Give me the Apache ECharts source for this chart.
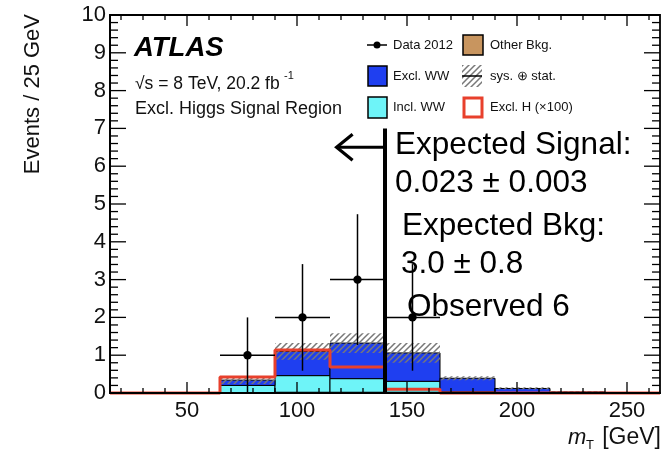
<!DOCTYPE html>
<html><head><meta charset="utf-8">
<script src="https://cdn.jsdelivr.net/npm/echarts@6/dist/echarts.min.js"></script>
<style>html,body{margin:0;padding:0;background:#fff}#c{width:670px;height:457px}</style>
</head><body><div id="c"></div>
<script>
// ---- data ----
const binLow = [15, 40, 65, 90, 115, 140, 165, 190, 215, 240];
const binWidth = 25;
const otherBkg = [0, 0, 0.01, 0.02, 0.02, 0.02, 0.01, 0, 0, 0];
const inclWW = [0, 0, 0.19, 0.44, 0.36, 0.29, 0.02, 0, 0, 0];
const exclWW = [0, 0, 0.14, 0.64, 0.94, 0.75, 0.36, 0.12, 0.03, 0.01];
const sysStatErr = [0, 0, 0.10, 0.22, 0.26, 0.26, 0.05, 0.03, 0.02, 0.01];
const exclH100 = [0, 0, 0.42, 1.14, 0.69, 0.10, 0, 0, 0, 0];
const dataX = [77.5, 102.5, 127.5, 152.5];
const dataY = [1, 2, 3, 2];
const dataErr = [1.0, 1.41, 1.73, 1.41];
const cutX = 140, cutTop = 7, arrowToX = 118, arrowY = 6.5;
const xMajorTicks = [50, 100, 150, 200, 250];
const xMinorTicks = [20, 30, 40, 60, 70, 80, 90, 110, 120, 130, 140, 160, 170, 180, 190, 210, 220, 230, 240, 260];
const yMajorTicks = [0, 1, 2, 3, 4, 5, 6, 7, 8, 9, 10];
const yMinorTicks = [];
yMajorTicks.slice(0, -1).forEach(v => { [0.2, 0.4, 0.6, 0.8].forEach(f => yMinorTicks.push(v + f)); });

const X_MIN = 15, X_MAX = 265, Y_MIN = 0, Y_MAX = 10;
const FONT = '"Liberation Sans", Arial, Helvetica, sans-serif';
const C_OTHER = '#c8955f', C_EXCL = '#1f3ff0', C_INCL = '#6ef4f8', C_RED = '#e8402c';

// hatch pattern
const hatch = document.createElement('canvas');
hatch.width = 6; hatch.height = 6;
(function () {
  const g = hatch.getContext('2d');
  g.strokeStyle = 'rgba(120,120,120,1)';
  g.lineWidth = 1.5;
  g.beginPath();
  g.moveTo(-3, 3); g.lineTo(3, -3);
  g.moveTo(0, 6); g.lineTo(6, 0);
  g.moveTo(3, 9); g.lineTo(9, 3);
  g.stroke();
})();
const hatchFill = { image: hatch, repeat: 'repeat' };

// stacked layers
function layer(vals, bases) {
  const out = [];
  vals.forEach((v, i) => { if (v > 0) out.push([binLow[i], binLow[i] + binWidth, bases[i], bases[i] + v]); });
  return out;
}
const base0 = binLow.map(() => 0);
const base1 = otherBkg.map((v, i) => base0[i] + v);
const base2 = inclWW.map((v, i) => base1[i] + v);
const total = exclWW.map((v, i) => base2[i] + v);
const hatchData = [];
total.forEach((t, i) => { if (sysStatErr[i] > 0) hatchData.push([binLow[i], binLow[i] + binWidth, Math.max(0, t - sysStatErr[i]), t + sysStatErr[i]]); });

function rectRender(fill, stroke, lw) {
  return function (params, api) {
    const a = api.coord([api.value(0), api.value(3)]);
    const b = api.coord([api.value(1), api.value(2)]);
    return { type: 'rect', shape: { x: a[0], y: a[1], width: b[0] - a[0], height: b[1] - a[1] },
      style: { fill: fill, stroke: stroke, lineWidth: lw } };
  };
}

const sigLine = binLow.map((x, i) => [x, exclH100[i]]);
sigLine.push([binLow[binLow.length - 1] + binWidth, exclH100[exclH100.length - 1]]);

const pts = dataX.map((x, i) => [x, dataY[i], dataErr[i]]);

// frame + inside tick marks on all four sides, placed through the axis scales, drawn as thin filled bars
function frameRender(params, api) {
  const x0 = api.value(0), y0 = api.value(1), x1 = api.value(2), y1 = api.value(3);
  const tl = api.coord([x0, y1]), br = api.coord([x1, y0]);
  const kids = [];
  const W = 1.3;
  function xt(v, len) {
    const b = api.coord([v, y0]), t = api.coord([v, y1]);
    kids.push({ type: 'rect', shape: { x: b[0] - W / 2, y: b[1] - len, width: W, height: len }, style: { fill: '#000' } });
    kids.push({ type: 'rect', shape: { x: t[0] - W / 2, y: t[1], width: W, height: len }, style: { fill: '#000' } });
  }
  function yt(v, len) {
    const l = api.coord([x0, v]), r = api.coord([x1, v]);
    kids.push({ type: 'rect', shape: { x: l[0], y: l[1] - W / 2, width: len, height: W }, style: { fill: '#000' } });
    kids.push({ type: 'rect', shape: { x: r[0] - len, y: r[1] - W / 2, width: len, height: W }, style: { fill: '#000' } });
  }
  xMajorTicks.forEach(v => xt(v, 11));
  xMinorTicks.forEach(v => xt(v, 5));
  yMajorTicks.forEach(v => yt(v, 16));
  yMinorTicks.forEach(v => yt(v, 8));
  kids.push({ type: 'rect', shape: { x: tl[0], y: tl[1], width: br[0] - tl[0], height: br[1] - tl[1] }, style: { fill: 'rgba(0,0,0,0)', stroke: '#000', lineWidth: 1.8 } });
  return { type: 'group', children: kids };
}

const option = {
  animation: false,
  grid: { left: 110, right: 10, top: 15, bottom: 64 },
  xAxis: {
    type: 'value', min: X_MIN, max: X_MAX, position: 'bottom',
    axisLine: { show: true, onZero: false, lineStyle: { color: '#000', width: 1.8 } },
    axisTick: { show: false },
    axisLabel: { show: true, customValues: xMajorTicks, margin: 7, color: '#111', fontSize: 22, fontFamily: FONT },
    splitLine: { show: false }
  },
  yAxis: {
    type: 'value', min: Y_MIN, max: Y_MAX, interval: 1, position: 'left',
    axisLine: { show: true, onZero: false, lineStyle: { color: '#000', width: 1.8 } },
    axisTick: { show: false },
    axisLabel: { show: true, margin: 4, color: '#111', fontSize: 22, fontFamily: FONT },
    splitLine: { show: false }
  },
  series: [
    { type: 'custom', name: 'Other Bkg.', z: 2, data: layer(otherBkg, base0), encode: { x: [0, 1], y: [2, 3] }, renderItem: rectRender(C_OTHER, '#000', 1) },
    { type: 'custom', name: 'Incl. WW', z: 2, data: layer(inclWW, base1), encode: { x: [0, 1], y: [2, 3] }, renderItem: rectRender(C_INCL, '#000', 1) },
    { type: 'custom', name: 'Excl. WW', z: 2, data: layer(exclWW, base2), encode: { x: [0, 1], y: [2, 3] }, renderItem: rectRender(C_EXCL, '#000', 1) },
    { type: 'custom', name: 'sys. stat.', z: 3, data: hatchData, encode: { x: [0, 1], y: [2, 3] }, renderItem: rectRender(hatchFill, null, 0) },
    { type: 'line', name: 'Excl. H (x100)', z: 5, data: sigLine, step: 'end', symbol: 'none', clip: false,
      lineStyle: { color: C_RED, width: 3 } },
    { type: 'custom', name: 'Data 2012', z: 6, data: pts, encode: { x: 0, y: 1 },
      renderItem: function (params, api) {
        const x = api.value(0), y = api.value(1), e = api.value(2);
        const c = api.coord([x, y]);
        const top = api.coord([x, y + e]), bot = api.coord([x, Math.max(0, y - e)]);
        const l = api.coord([x - binWidth / 2, y]), r = api.coord([x + binWidth / 2, y]);
        return { type: 'group', children: [
          { type: 'line', shape: { x1: c[0], y1: top[1], x2: c[0], y2: bot[1] }, style: { stroke: '#000', lineWidth: 1.5 } },
          { type: 'line', shape: { x1: l[0], y1: c[1], x2: r[0], y2: c[1] }, style: { stroke: '#000', lineWidth: 1.5 } },
          { type: 'circle', shape: { cx: c[0], cy: c[1], r: 4.2 }, style: { fill: '#000' } }
        ] };
      } },
    { type: 'custom', name: 'cut', z: 7, data: [[cutX, cutTop, arrowToX, arrowY]], encode: { x: 0, y: 1 },
      renderItem: function (params, api) {
        const bx = api.coord([api.value(0), 0]);
        const tx = api.coord([api.value(0), api.value(1)]);
        const a0 = api.coord([api.value(0), api.value(3)]);
        const a1 = api.coord([api.value(2), api.value(3)]);
        return { type: 'group', children: [
          { type: 'line', shape: { x1: bx[0], y1: bx[1], x2: tx[0], y2: tx[1] }, style: { stroke: '#000', lineWidth: 4 } },
          { type: 'line', shape: { x1: a0[0], y1: a0[1], x2: a1[0] + 1, y2: a1[1] }, style: { stroke: '#000', lineWidth: 3 } },
          { type: 'polyline', shape: { points: [[a1[0] + 16, a1[1] - 13], [a1[0], a1[1]], [a1[0] + 16, a1[1] + 13]] }, style: { stroke: '#000', lineWidth: 3.2, fill: 'rgba(0,0,0,0)' } }
        ] };
      } },
    { type: 'custom', name: 'frame', z: 8, data: [[X_MIN, Y_MIN, X_MAX, Y_MAX]], encode: { x: [0, 2], y: [1, 3] }, renderItem: frameRender }
  ],
  graphic: [
    // y axis title
    { type: 'text', x: 33, y: 14, rotation: Math.PI / 2, style: { text: 'Events / 25 GeV', font: '22px ' + FONT, fill: '#111', align: 'right', verticalAlign: 'middle' } },
    // x axis title
    { type: 'text', x: 568, y: 438, style: { text: 'm', font: 'italic 22px ' + FONT, fill: '#111', verticalAlign: 'middle' } },
    { type: 'text', x: 586, y: 445, style: { text: 'T', font: '13px ' + FONT, fill: '#111', verticalAlign: 'middle' } },
    { type: 'text', x: 661, y: 438, style: { text: '[GeV]', font: '23px ' + FONT, fill: '#111', align: 'right', verticalAlign: 'middle' } },
    // ATLAS label
    { type: 'text', x: 134, y: 48, style: { text: 'ATLAS', font: 'italic bold 27.5px ' + FONT, fill: '#000', verticalAlign: 'middle' } },
    { type: 'text', x: 135, y: 84, style: { text: '\u221As = 8 TeV, 20.2 fb', font: '17.5px ' + FONT, fill: '#111', verticalAlign: 'middle' } },
    { type: 'text', x: 284, y: 76, style: { text: '-1', font: '11px ' + FONT, fill: '#111', verticalAlign: 'middle' } },
    { type: 'text', x: 135, y: 109, style: { text: 'Excl. Higgs Signal Region', font: '18px ' + FONT, fill: '#111', verticalAlign: 'middle' } },
    // legend
    { type: 'line', shape: { x1: 367, y1: 45, x2: 387, y2: 45 }, style: { stroke: '#000', lineWidth: 1.5 } },
    { type: 'circle', shape: { cx: 377, cy: 45, r: 3.5 }, style: { fill: '#000' } },
    { type: 'text', x: 393, y: 45, style: { text: 'Data 2012', font: '13px ' + FONT, fill: '#111', verticalAlign: 'middle' } },
    { type: 'rect', shape: { x: 463, y: 35, width: 20, height: 20 }, style: { fill: C_OTHER, stroke: '#000', lineWidth: 1.5 } },
    { type: 'text', x: 490, y: 45, style: { text: 'Other Bkg.', font: '13px ' + FONT, fill: '#111', verticalAlign: 'middle' } },
    { type: 'rect', shape: { x: 368, y: 66, width: 19, height: 20 }, style: { fill: C_EXCL, stroke: '#000', lineWidth: 1.5 } },
    { type: 'text', x: 393, y: 76, style: { text: 'Excl. WW', font: '13px ' + FONT, fill: '#111', verticalAlign: 'middle' } },
    { type: 'rect', shape: { x: 462, y: 65, width: 20, height: 22 }, style: { fill: hatchFill } },
    { type: 'line', shape: { x1: 462, y1: 76, x2: 482, y2: 76 }, style: { stroke: '#000', lineWidth: 1.5 } },
    { type: 'text', x: 490, y: 76, style: { text: 'sys. \u2295 stat.', font: '13px ' + FONT, fill: '#111', verticalAlign: 'middle' } },
    { type: 'rect', shape: { x: 368, y: 97, width: 19, height: 21 }, style: { fill: C_INCL, stroke: '#000', lineWidth: 1.5 } },
    { type: 'text', x: 393, y: 107.5, style: { text: 'Incl. WW', font: '13px ' + FONT, fill: '#111', verticalAlign: 'middle' } },
    { type: 'rect', shape: { x: 464, y: 98, width: 18, height: 19 }, style: { fill: '#fff', stroke: C_RED, lineWidth: 3 } },
    { type: 'text', x: 490, y: 107.5, style: { text: 'Excl. H (\u00D7100)', font: '13px ' + FONT, fill: '#111', verticalAlign: 'middle' } },
    // annotations
    { type: 'text', x: 395, y: 145, z: 20, style: { text: 'Expected Signal:', font: '31.5px ' + FONT, fill: '#000', verticalAlign: 'middle' } },
    { type: 'text', x: 395, y: 183, z: 20, style: { text: '0.023 \u00B1 0.003', font: '31.5px ' + FONT, fill: '#000', verticalAlign: 'middle' } },
    { type: 'text', x: 402, y: 226, z: 20, style: { text: 'Expected Bkg:', font: '31.5px ' + FONT, fill: '#000', verticalAlign: 'middle' } },
    { type: 'text', x: 401, y: 264, z: 20, style: { text: '3.0 \u00B1 0.8', font: '31.5px ' + FONT, fill: '#000', verticalAlign: 'middle' } },
    { type: 'text', x: 407, y: 307, z: 20, style: { text: 'Observed 6', font: '31.5px ' + FONT, fill: '#000', verticalAlign: 'middle' } }
  ]
};
const chart = echarts.init(document.getElementById('c'));
chart.setOption(option);
</script></body></html>
